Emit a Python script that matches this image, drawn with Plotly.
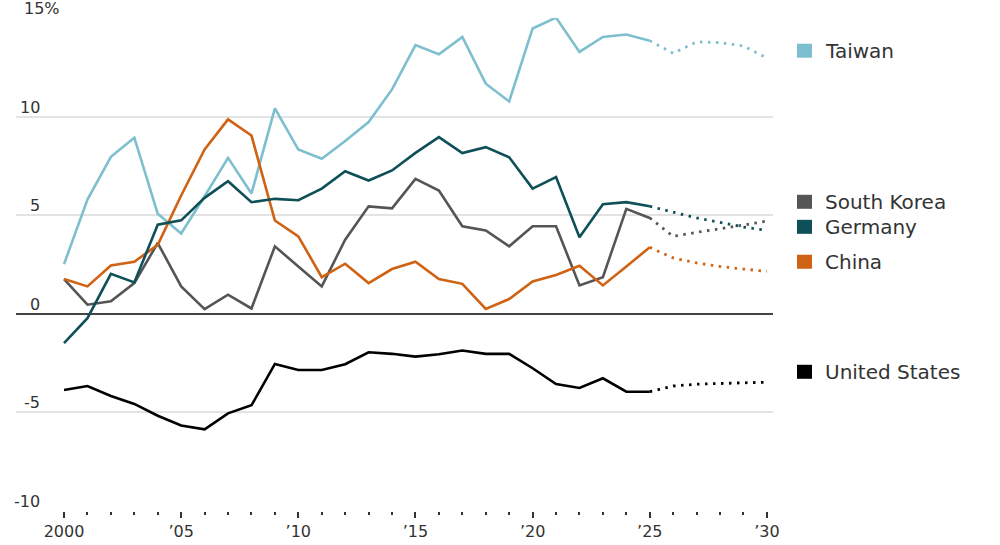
import plotly.graph_objects as go

years = list(range(2000, 2026))
proj_years = list(range(2025, 2031))

taiwan = [2.52, 5.79, 7.96, 8.93, 5.07, 4.07, 5.96, 7.91, 6.10, 10.42, 8.33, 7.86, 8.76, 9.72,
          11.38, 13.63, 13.16, 14.04, 11.67, 10.77, 14.47, 15.02, 13.28, 14.04, 14.16, 13.85]
taiwan_proj = [13.85, 13.21, 13.79, 13.75, 13.58, 12.97]

germany = [-1.49, -0.22, 2.03, 1.59, 4.52, 4.74, 5.88, 6.72, 5.66, 5.83, 5.76, 6.35, 7.23, 6.76,
           7.27, 8.16, 8.96, 8.15, 8.45, 7.94, 6.35, 6.93, 3.88, 5.56, 5.66, 5.45]
germany_proj = [5.45, 5.15, 4.86, 4.64, 4.40, 4.23]

south_korea = [1.76, 0.46, 0.63, 1.56, 3.59, 1.39, 0.24, 0.97, 0.27, 3.42, 2.40, 1.39, 3.76, 5.45,
               5.35, 6.84, 6.25, 4.44, 4.23, 3.42, 4.44, 4.44, 1.44, 1.86, 5.32, 4.86]
south_korea_proj = [4.86, 3.93, 4.13, 4.30, 4.50, 4.70]

china = [1.76, 1.39, 2.45, 2.64, 3.50, 6.00, 8.33, 9.86, 9.04, 4.73, 3.93, 1.86, 2.54, 1.56,
         2.27, 2.64, 1.76, 1.52, 0.25, 0.75, 1.64, 1.97, 2.44, 1.44, 2.40, 3.37]
china_proj = [3.37, 2.83, 2.58, 2.40, 2.27, 2.15]

united_states = [-3.86, -3.66, -4.17, -4.57, -5.17, -5.66, -5.86, -5.05, -4.64, -2.54, -2.85, -2.85,
                 -2.56, -1.95, -2.03, -2.17, -2.05, -1.86, -2.03, -2.03, -2.76, -3.56, -3.76,
                 -3.27, -3.95, -3.95]
united_states_proj = [-3.95, -3.66, -3.57, -3.52, -3.50, -3.47]

series_names = ["Taiwan", "South Korea", "Germany", "China", "United States"]
series_colors = ["#7dbfce", "#555555", "#0f4f57", "#cf6213", "#000000"]
legend_y = [13.34, 5.68, 4.41, 2.64, -2.94]

x_tick_vals = [2000, 2005, 2010, 2015, 2020, 2025, 2030]
x_tick_text = ["2000", "\u201905", "\u201910", "\u201915", "\u201920", "\u201925", "\u201930"]
x_minor_vals = [y for y in range(2001, 2030) if y % 5 != 0]
y_tick_vals = [15, 10, 5, 0, -5, -10]
y_tick_text = ["15%", "10", "5", "0", "-5", "-10"]

hist = {"Taiwan": taiwan, "South Korea": south_korea, "Germany": germany,
        "China": china, "United States": united_states}
proj = {"Taiwan": taiwan_proj, "South Korea": south_korea_proj, "Germany": germany_proj,
        "China": china_proj, "United States": united_states_proj}

FONT = "DejaVu Sans"
fig = go.Figure()

draw_order = ["Taiwan", "South Korea", "China", "Germany", "United States"]
for name in draw_order:
    c = series_colors[series_names.index(name)]
    fig.add_trace(go.Scatter(x=years, y=hist[name], mode="lines", name=name,
                             line=dict(color=c, width=2.6), showlegend=False,
                             hoverinfo="skip"))
    fig.add_trace(go.Scatter(x=proj_years, y=proj[name], mode="lines", name=name + " forecast",
                             line=dict(color=c, width=2.8, dash="2.5px,5.5px"), showlegend=False,
                             hoverinfo="skip"))

annotations = []
for v, t in zip(y_tick_vals, y_tick_text):
    if t.endswith("%"):
        annotations.append(dict(x=0.0079, xref="paper", y=v, yref="y", text=t, showarrow=False,
                                xanchor="left", yanchor="bottom", yshift=-2,
                                font=dict(family=FONT, size=16, color="#333")))
    else:
        annotations.append(dict(x=0.0343, xref="paper", y=v, yref="y", text=t, showarrow=False,
                                xanchor="right", yanchor="bottom", yshift=-2,
                                font=dict(family=FONT, size=16, color="#333")))

shapes = []
for name, c, ly in zip(series_names, series_colors, legend_y):
    annotations.append(dict(x=1.0660, xref="paper", y=ly, yref="y", text=name, showarrow=False,
                            xanchor="left", yanchor="middle",
                            font=dict(family=FONT, size=20, color="#333")))
    shapes.append(dict(type="rect", xref="paper", xsizemode="pixel", xanchor=1.0317, x0=0, x1=15,
                       yref="y", ysizemode="pixel", yanchor=ly, y0=-7, y1=7,
                       fillcolor=c, line=dict(width=0)))

fig.update_layout(
    width=1000, height=545,
    margin=dict(l=16, r=227, t=18, b=34, autoexpand=False),
    paper_bgcolor="white", plot_bgcolor="white",
    font=dict(family=FONT, size=16, color="#333"),
    xaxis=dict(range=[1997.95, 2030.26], tickvals=x_tick_vals, ticktext=x_tick_text,
               ticks="outside", ticklen=6, tickwidth=1.5, tickcolor="#333",
               showgrid=False, zeroline=False, showline=False,
               tickfont=dict(family=FONT, size=16, color="#333"),
               minor=dict(ticks="outside", ticklen=3, tickwidth=1.5, tickcolor="#333",
                          tickmode="array", tickvals=x_minor_vals, showgrid=False)),
    yaxis=dict(range=[-10, 15], tickvals=y_tick_vals, showticklabels=False,
               showgrid=True, gridcolor="#e3e3e3", gridwidth=1.5,
               zeroline=True, zerolinecolor="#444", zerolinewidth=1.5, showline=False),
    annotations=annotations, shapes=shapes,
)

fig.write_html("out.html", config={"displayModeBar": False},
               post_script="document.body.style.margin='0';document.body.style.overflow='hidden';")
